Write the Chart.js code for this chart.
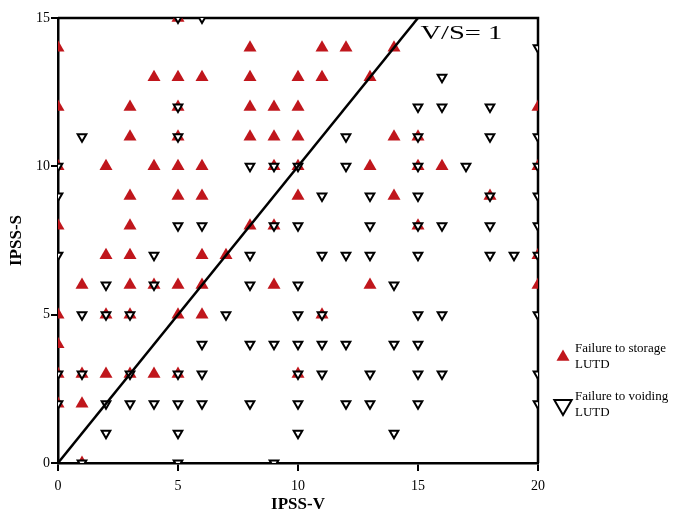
<!DOCTYPE html>
<html>
<head>
<meta charset="utf-8">
<script src="https://cdn.jsdelivr.net/npm/chart.js@4.4.1/dist/chart.umd.min.js"></script>
<style>
  html, body { margin: 0; padding: 0; background: #fff; }
</style>
</head>
<body>
<canvas id="c" width="675" height="517"></canvas>
<script>
// [IPSS-V, IPSS-S] pairs
const storagePts = [
  [5,15],
  [0,14],[8,14],[11,14],[12,14],[14,14],
  [4,13],[5,13],[6,13],[8,13],[10,13],[11,13],[13,13],
  [0,12],[3,12],[5,12],[8,12],[9,12],[10,12],[20,12],
  [3,11],[5,11],[8,11],[9,11],[10,11],[14,11],[15,11],
  [0,10],[2,10],[4,10],[5,10],[6,10],[9,10],[10,10],[13,10],[15,10],[16,10],[20,10],
  [3,9],[5,9],[6,9],[10,9],[14,9],[18,9],
  [0,8],[3,8],[8,8],[9,8],[15,8],
  [2,7],[3,7],[6,7],[7,7],[20,7],
  [1,6],[3,6],[4,6],[5,6],[6,6],[9,6],[13,6],[20,6],
  [0,5],[2,5],[3,5],[5,5],[6,5],[11,5],
  [0,4],
  [0,3],[1,3],[2,3],[3,3],[4,3],[5,3],[10,3],
  [0,2],[1,2],
  [1,0]
];
const voidingPts = [
  [5,15],[6,15],
  [20,14],
  [16,13],
  [5,12],[15,12],[16,12],[18,12],
  [1,11],[5,11],[12,11],[15,11],[18,11],[20,11],
  [0,10],[8,10],[9,10],[10,10],[12,10],[15,10],[17,10],[20,10],
  [0,9],[11,9],[13,9],[15,9],[18,9],[20,9],
  [5,8],[6,8],[9,8],[10,8],[13,8],[15,8],[16,8],[18,8],[20,8],
  [0,7],[4,7],[8,7],[11,7],[12,7],[13,7],[15,7],[18,7],[19,7],[20,7],
  [2,6],[4,6],[8,6],[10,6],[14,6],
  [1,5],[2,5],[3,5],[7,5],[10,5],[11,5],[15,5],[16,5],[20,5],
  [6,4],[8,4],[9,4],[10,4],[11,4],[12,4],[14,4],[15,4],
  [0,3],[1,3],[3,3],[5,3],[6,3],[10,3],[11,3],[13,3],[15,3],[16,3],[20,3],
  [0,2],[2,2],[3,2],[4,2],[5,2],[6,2],[8,2],[10,2],[12,2],[13,2],[15,2],[20,2],
  [2,1],[5,1],[10,1],[14,1],
  [1,0],[5,0],[9,0]
];
const ratioLine = [[0,0],[15,15]];
const ratioLabel = 'V/S= 1';
const xTicks = [0,5,10,15,20];
const yTicks = [0,5,10,15];
const legendLabels = [['Failure to storage','LUTD'],['Failure to voiding','LUTD']];

const RED = '#c0161c';
const SERIF = '"Liberation Serif", "DejaVu Serif", serif';

const toXY = arr => arr.map(p => ({x: p[0], y: p[1]}));

const decor = {
  id: 'decor',
  beforeDatasetsDraw(chart) {
    const {ctx, chartArea: a} = chart;
    ctx.save();
    ctx.strokeStyle = '#000';
    ctx.lineWidth = 2.5;
    ctx.beginPath();
    ctx.moveTo(a.left, a.top);
    ctx.lineTo(a.right, a.top);
    ctx.lineTo(a.right, a.bottom);
    ctx.stroke();
    ctx.restore();
  },
  afterDraw(chart) {
    const {ctx, chartArea: a, scales} = chart;
    ctx.save();
    // ratio label, stretched wide like the original
    ctx.font = '18px ' + SERIF;
    ctx.fillStyle = '#000';
    ctx.textBaseline = 'middle';
    ctx.textAlign = 'left';
    const lxp = scales.x.getPixelForValue(15.1);
    const lyp = scales.y.getPixelForValue(14.45);
    const w = ctx.measureText(ratioLabel).width;
    ctx.translate(lxp, lyp);
    ctx.scale(82 / w, 1);
    ctx.fillText(ratioLabel, 0, 0);
    ctx.restore();

    ctx.save();
    // legend
    const lx = a.right + 25;
    const tx = a.right + 37;
    const items = [
      {y: 357, style: {pointStyle: 'triangle', radius: 7.5, backgroundColor: RED, borderColor: RED, borderWidth: 0, rotation: 0}},
      {y: 405, style: {pointStyle: 'triangle', radius: 10, backgroundColor: '#fff', borderColor: '#000', borderWidth: 2, rotation: 180}}
    ];
    ctx.font = '13px ' + SERIF;
    ctx.textBaseline = 'middle';
    items.forEach((it, i) => {
      ctx.fillStyle = it.style.backgroundColor;
      ctx.strokeStyle = it.style.borderColor;
      ctx.lineWidth = it.style.borderWidth;
      Chart.helpers.drawPoint(ctx, it.style, lx, it.y);
      ctx.fillStyle = '#000';
      ctx.fillText(legendLabels[i][0], tx, it.y - 8);
      ctx.fillText(legendLabels[i][1], tx, it.y + 8);
    });
    ctx.restore();
  }
};

new Chart(document.getElementById('c'), {
  type: 'scatter',
  data: {
    datasets: [
      {
        type: 'line',
        label: ratioLabel,
        data: toXY(ratioLine),
        borderColor: '#000',
        borderWidth: 2.5,
        pointRadius: 0,
        fill: false,
        order: 0
      },
      {
        label: legendLabels[1].join(' '),
        data: toXY(voidingPts),
        pointStyle: 'triangle',
        rotation: 180,
        pointRadius: 5,
        backgroundColor: '#fff',
        borderColor: '#000',
        borderWidth: 2,
        clip: 0,
        order: 1
      },
      {
        label: legendLabels[0].join(' '),
        data: toXY(storagePts),
        pointStyle: 'triangle',
        pointRadius: 7.5,
        backgroundColor: RED,
        borderColor: RED,
        borderWidth: 0,
        clip: 0,
        order: 2
      }
    ]
  },
  options: {
    responsive: false,
    animation: false,
    layout: {padding: {top: 18, right: 137, left: 6, bottom: 2}},
    plugins: {legend: {display: false}, tooltip: {enabled: false}},
    scales: {
      x: {
        type: 'linear',
        min: 0, max: 20,
        afterBuildTicks: s => { s.ticks = xTicks.map(v => ({value: v})); },
        afterFit: s => { s.height = 52; },
        grid: {drawOnChartArea: false, drawTicks: true, tickLength: 8, color: '#000', lineWidth: 2},
        border: {display: true, color: '#000', width: 2.5},
        ticks: {color: '#000', font: {family: SERIF, size: 14}, padding: 7, maxRotation: 0},
        title: {display: true, text: 'IPSS-V', color: '#000', font: {family: SERIF, size: 17, weight: 'bold'}, padding: {top: 0, bottom: 0}}
      },
      y: {
        type: 'linear',
        min: 0, max: 15,
        afterBuildTicks: s => { s.ticks = yTicks.map(v => ({value: v})); },
        afterFit: s => { s.width = 52; },
        grid: {drawOnChartArea: false, drawTicks: true, tickLength: 7, color: '#000', lineWidth: 2},
        border: {display: true, color: '#000', width: 2.5},
        ticks: {color: '#000', font: {family: SERIF, size: 14}, padding: 1},
        title: {display: true, text: 'IPSS-S', color: '#000', font: {family: SERIF, size: 17, weight: 'bold'}, padding: {top: 0, bottom: 4}}
      }
    }
  },
  plugins: [decor]
});
</script>
</body>
</html>
